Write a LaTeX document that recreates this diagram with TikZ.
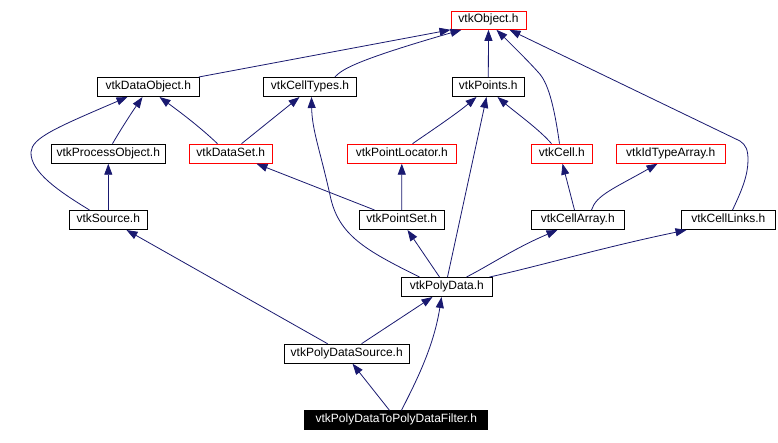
\documentclass[tikz,border=0pt]{standalone}
\usepackage{fontspec}
\setmainfont{Liberation Sans}
\usetikzlibrary{arrows.meta}
\definecolor{edgec}{HTML}{191970}
\begin{document}
\begin{tikzpicture}[x=1pt,y=-1pt,
  box/.style={draw=black, line width=1pt, rectangle, inner sep=0pt, minimum height=19pt, text height=8.6pt, text depth=3.8pt, font=\fontsize{12}{13}\selectfont},
  redbox/.style={box, draw=red},
  edge/.style={draw=edgec, line width=0.8pt, -{Triangle[length=11pt,width=8pt]}}]
\useasboundingbox (0,0) rectangle (778,442);
\fill[white] (0,0) rectangle (778,442);
% nodes
\node[redbox, minimum width=75pt, minimum height=17.6pt] (obj) at (488.5,20.5) {vtkObject.h};
\node[box, minimum width=102pt] (dobj) at (148.3,87) {vtkDataObject.h};
\node[box, minimum width=93.4pt] (ctypes) at (310,87) {vtkCellTypes.h};
\node[box, minimum width=72pt] (points) at (488.3,87) {vtkPoints.h};
\node[box, minimum width=114pt] (pobj) at (108.3,153.7) {vtkProcessObject.h};
\node[redbox, minimum width=83pt] (dset) at (230.8,153.7) {vtkDataSet.h};
\node[redbox, minimum width=109pt] (ploc) at (401.8,153.7) {vtkPointLocator.h};
\node[redbox, minimum width=61pt] (cell) at (561.8,153.7) {vtkCell.h};
\node[redbox, minimum width=109pt] (idta) at (670.8,153.7) {vtkIdTypeArray.h};
\node[box, minimum width=78pt] (source) at (108.3,220) {vtkSource.h};
\node[box, minimum width=84.7pt] (pset) at (401.7,220) {vtkPointSet.h};
\node[box, minimum width=93pt] (carr) at (577.8,220) {vtkCellArray.h};
\node[box, minimum width=94pt] (clinks) at (728.3,220) {vtkCellLinks.h};
\node[box, minimum width=91pt] (pdata) at (446.8,287) {vtkPolyData.h};
\node[box, minimum width=125.3pt] (pdsrc) at (346.7,353.7) {vtkPolyDataSource.h};
\node[box, fill=black, text=white, minimum width=182.7pt] (filter) at (396.3,420.3) {vtkPolyDataToPolyDataFilter.h};
% edges
\draw[edge] ([xshift=-1pt]dobj.north east) -- (obj.south west);
\draw[edge] ([xshift=72pt]ctypes.north west) .. controls (342,70) and (350,62) .. ([xshift=11pt]obj.south west);
\draw[edge] (points.north) -- (obj.south);
\draw[edge] ([xshift=28.7pt]cell.north west) .. controls (554,105) and (548,82) .. (538,72) .. controls (530,63) and (515,48) .. ([xshift=46pt]obj.south west);
\draw[edge] ([xshift=51.7pt]clinks.north west) .. controls (742,190) and (748,175) .. (748,160) .. controls (748,150) and (746,145) .. (740,141) -- ([xshift=59pt]obj.south west);
\draw[edge] ([xshift=61.7pt]pobj.north west) .. controls (118,134) and (130,115) .. ([xshift=45.7pt]dobj.south west);
\draw[edge] ([xshift=20.7pt]source.north west) .. controls (60,192) and (30,172) .. (31,152) .. controls (32,138) and (55,128) .. ([xshift=30.7pt]dobj.south west);
\draw[edge] ([xshift=28.7pt]dset.north west) .. controls (200,127) and (180,112) .. ([xshift=62.7pt]dobj.south west);
\draw[edge] ([xshift=52.7pt]dset.north west) -- ([xshift=36.7pt]ctypes.south west);
\draw[edge] ([xshift=65.7pt]ploc.north west) .. controls (425,135) and (455,115) .. ([xshift=24.7pt]points.south west);
\draw[edge] ([xshift=20.7pt]cell.north west) .. controls (540,130) and (515,112) .. ([xshift=45.7pt]points.south west);
\draw[edge] (source.north) -- (pobj.south);
\draw[edge] ([xshift=15.7pt]pset.north west) -- ([xshift=67.7pt]dset.south west);
\draw[edge] (pset.north) -- (ploc.south);
\draw[edge] ([xshift=43.7pt]carr.north west) -- ([xshift=31.7pt]cell.south west);
\draw[edge] ([xshift=60.7pt]carr.north west) .. controls (596,195) and (615,188) .. ([xshift=41.7pt]idta.south west);
\draw[edge] ([xshift=18.7pt]pdata.north west) .. controls (365,250) and (338,235) .. (330,195) .. controls (320,150) and (312,130) .. ([xshift=48.7pt]ctypes.south west);
\draw[edge] ([xshift=38.7pt]pdata.north west) -- ([xshift=48.7pt]pset.south west);
\draw[edge] ([xshift=46.7pt]pdata.north west) -- ([xshift=34.7pt]points.south west);
\draw[edge] ([xshift=65.7pt]pdata.north west) .. controls (490,265) and (515,248) .. ([xshift=26.7pt]carr.south west);
\draw[edge] ([xshift=88.7pt]pdata.north west) .. controls (540,266) and (600,248) .. ([xshift=5.7pt]clinks.south west);
\draw[edge] ([xshift=44pt]pdsrc.north west) -- ([xshift=57.7pt]source.south west);
\draw[edge] ([xshift=78pt]pdsrc.north west) -- ([xshift=31.7pt]pdata.south west);
\draw[edge] ([xshift=85pt]filter.north west) -- ([xshift=69pt]pdsrc.south west);
\draw[edge] ([xshift=97pt]filter.north west) .. controls (418,378) and (434,345) .. ([xshift=40.7pt]pdata.south west);
\end{tikzpicture}
\end{document}
